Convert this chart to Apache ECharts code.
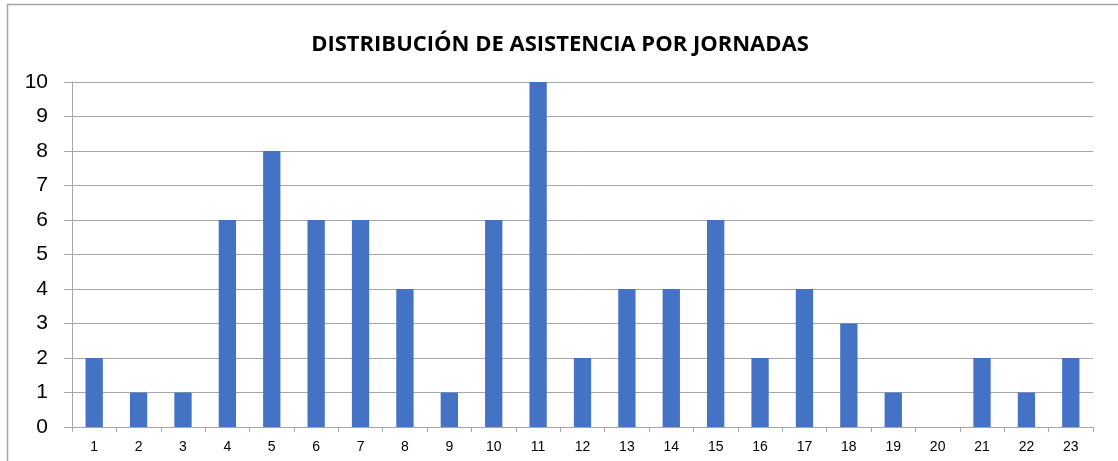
<!DOCTYPE html>
<html>
<head>
<meta charset="utf-8">
<script src="https://cdn.jsdelivr.net/npm/echarts@6/dist/echarts.min.js"></script>
<style>
  html, body { margin: 0; padding: 0; background: #fff; }
  #chart { width: 1118px; height: 461px; }
</style>
</head>
<body>
<div id="chart"></div>
<script>
var jornadas = ['1','2','3','4','5','6','7','8','9','10','11','12','13','14','15','16','17','18','19','20','21','22','23'];
var asistencia = [2, 1, 1, 6, 8, 6, 6, 4, 1, 6, 10, 2, 4, 4, 6, 2, 4, 3, 1, 0, 2, 1, 2];
var tituloTexto = 'DISTRIBUCIÓN DE ASISTENCIA POR JORNADAS';

var chart = echarts.init(document.getElementById('chart'));

var option = {
    animation: false,
    backgroundColor: '#fff',
    title: {
        text: tituloTexto,
        left: 555,
        textAlign: 'center',
        top: 29,
        textStyle: {
            fontFamily: 'Open Sans',
            fontWeight: 'bold',
            fontSize: 22,
            color: '#000'
        }
    },
    // chart frame (right and bottom edges fall outside the picture)
    graphic: [{
        type: 'rect',
        shape: { x: 7.5, y: 4.5, width: 1200, height: 600 },
        style: { fill: 'none', stroke: '#A6A6A6', lineWidth: 1.5 },
        silent: true
    }],
    grid: {
        left: 72,
        right: 25,
        top: 82,
        bottom: 34
    },
    xAxis: {
        type: 'category',
        data: jornadas,
        axisLine: { lineStyle: { color: '#A6A6A6', width: 1 } },
        axisTick: { show: true, alignWithLabel: false, length: 5, lineStyle: { color: '#A6A6A6' } },
        axisLabel: {
            color: '#000',
            fontSize: 14,
            fontFamily: 'Liberation Sans',
            margin: 13
        }
    },
    yAxis: {
        type: 'value',
        min: 0,
        max: 10,
        interval: 1,
        axisLine: { show: true, lineStyle: { color: '#A6A6A6', width: 1 } },
        axisTick: { show: true, inside: false, length: 8, lineStyle: { color: '#A6A6A6' } },
        splitLine: { lineStyle: { color: '#A6A6A6', width: 1 } },
        axisLabel: {
            color: '#000',
            fontSize: 21,
            fontFamily: 'Liberation Sans',
            margin: 24
        }
    },
    series: [{
        name: 'Asistencia',
        type: 'bar',
        data: asistencia,
        barWidth: '39%',
        itemStyle: { color: '#4472C4' }
    }]
};

chart.setOption(option);
window.addEventListener('resize', function () {
    chart.resize();
});
</script>
</body>
</html>
